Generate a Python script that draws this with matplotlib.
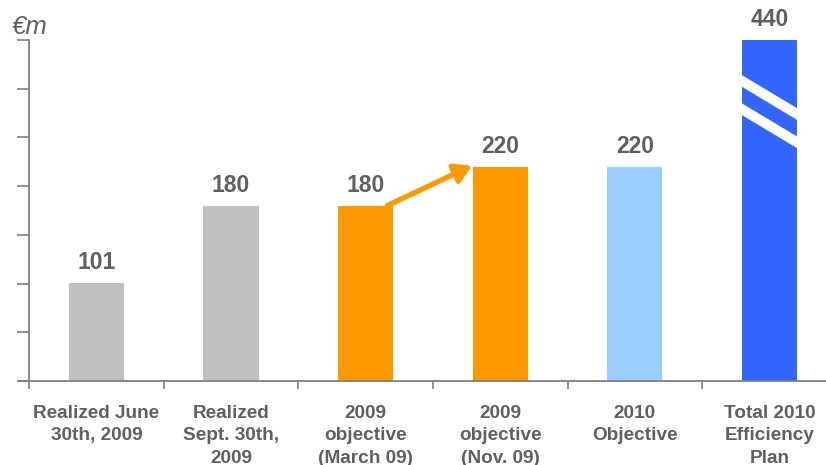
import matplotlib
matplotlib.use("Agg")
import matplotlib.pyplot as plt
from matplotlib.patches import Polygon, FancyArrowPatch

plt.rcParams['font.family'] = ['Liberation Sans', 'DejaVu Sans']

categories = ['Realized June\n30th, 2009', 'Realized\nSept. 30th,\n2009',
              '2009\nobjective\n(March 09)', '2009\nobjective\n(Nov. 09)',
              '2010\nObjective', 'Total 2010\nEfficiency\nPlan']
values = [101, 180, 180, 220, 220, 440]
colors = ['#C0C0C0', '#C0C0C0', '#FF9900', '#FF9900', '#99CCFF', '#3366FF']
y_top = 350  # axis is cut here, last bar is broken

text_col = '#606060'
axis_col = '#808080'

fig = plt.figure(figsize=(8.26, 4.65), dpi=100)
ax = fig.add_axes([29/826, 84/465, 797/826, 341/465])

x = list(range(len(values)))
ax.bar(x, values, width=0.41, color=colors, zorder=2)
ax.set_xlim(-0.5, 5.42)
ax.set_ylim(0, y_top)

for xi, v in zip(x, values):
    ax.annotate(str(v), (xi, min(v, y_top)), xytext=(0, 6.5), textcoords='offset points',
                ha='center', va='bottom', fontsize=16.5, fontweight='bold', color=text_col,
                annotation_clip=False)

# break marks on the last bar
bw = 0.205
for y0 in [308, 279]:
    ax.add_patch(Polygon([(5 - bw, y0 + 6), (5 + bw, y0 - 28), (5 + bw, y0 - 40), (5 - bw, y0 - 6)],
                         closed=True, facecolor='white', edgecolor='none', zorder=3))

# arrow between the two 2009 objectives
ax.add_patch(FancyArrowPatch((2.16, 180), (2.79, 221), arrowstyle='-|>,head_length=10,head_width=6',
                             color='#FF9900', lw=3.8, zorder=4, shrinkA=0, shrinkB=0))

for s in ['top', 'right']:
    ax.spines[s].set_visible(False)
for s in ['left', 'bottom']:
    ax.spines[s].set_color(axis_col)
    ax.spines[s].set_linewidth(1.3)
ax.spines['bottom'].set_bounds(-0.57, 5.42)

ax.set_yticks(range(0, y_top + 1, 50))
ax.set_yticklabels([])
ax.tick_params(axis='y', length=9, color=axis_col, width=1.2)

ax.set_xticks(x)
ax.set_xticklabels(categories, fontsize=13.7, fontweight='bold', color=text_col, linespacing=1.42)
ax.set_xticks([i - 0.5 for i in range(len(values))], minor=True)
ax.tick_params(axis='x', which='major', length=0, pad=17)
ax.tick_params(axis='x', which='minor', length=6, color=axis_col, width=1.2)

fig.text(12/826, 1 - 27/465, '€m', fontsize=18.5, fontstyle='italic', color=text_col,
         ha='left', va='center')

fig.savefig('out.png', dpi=100)
